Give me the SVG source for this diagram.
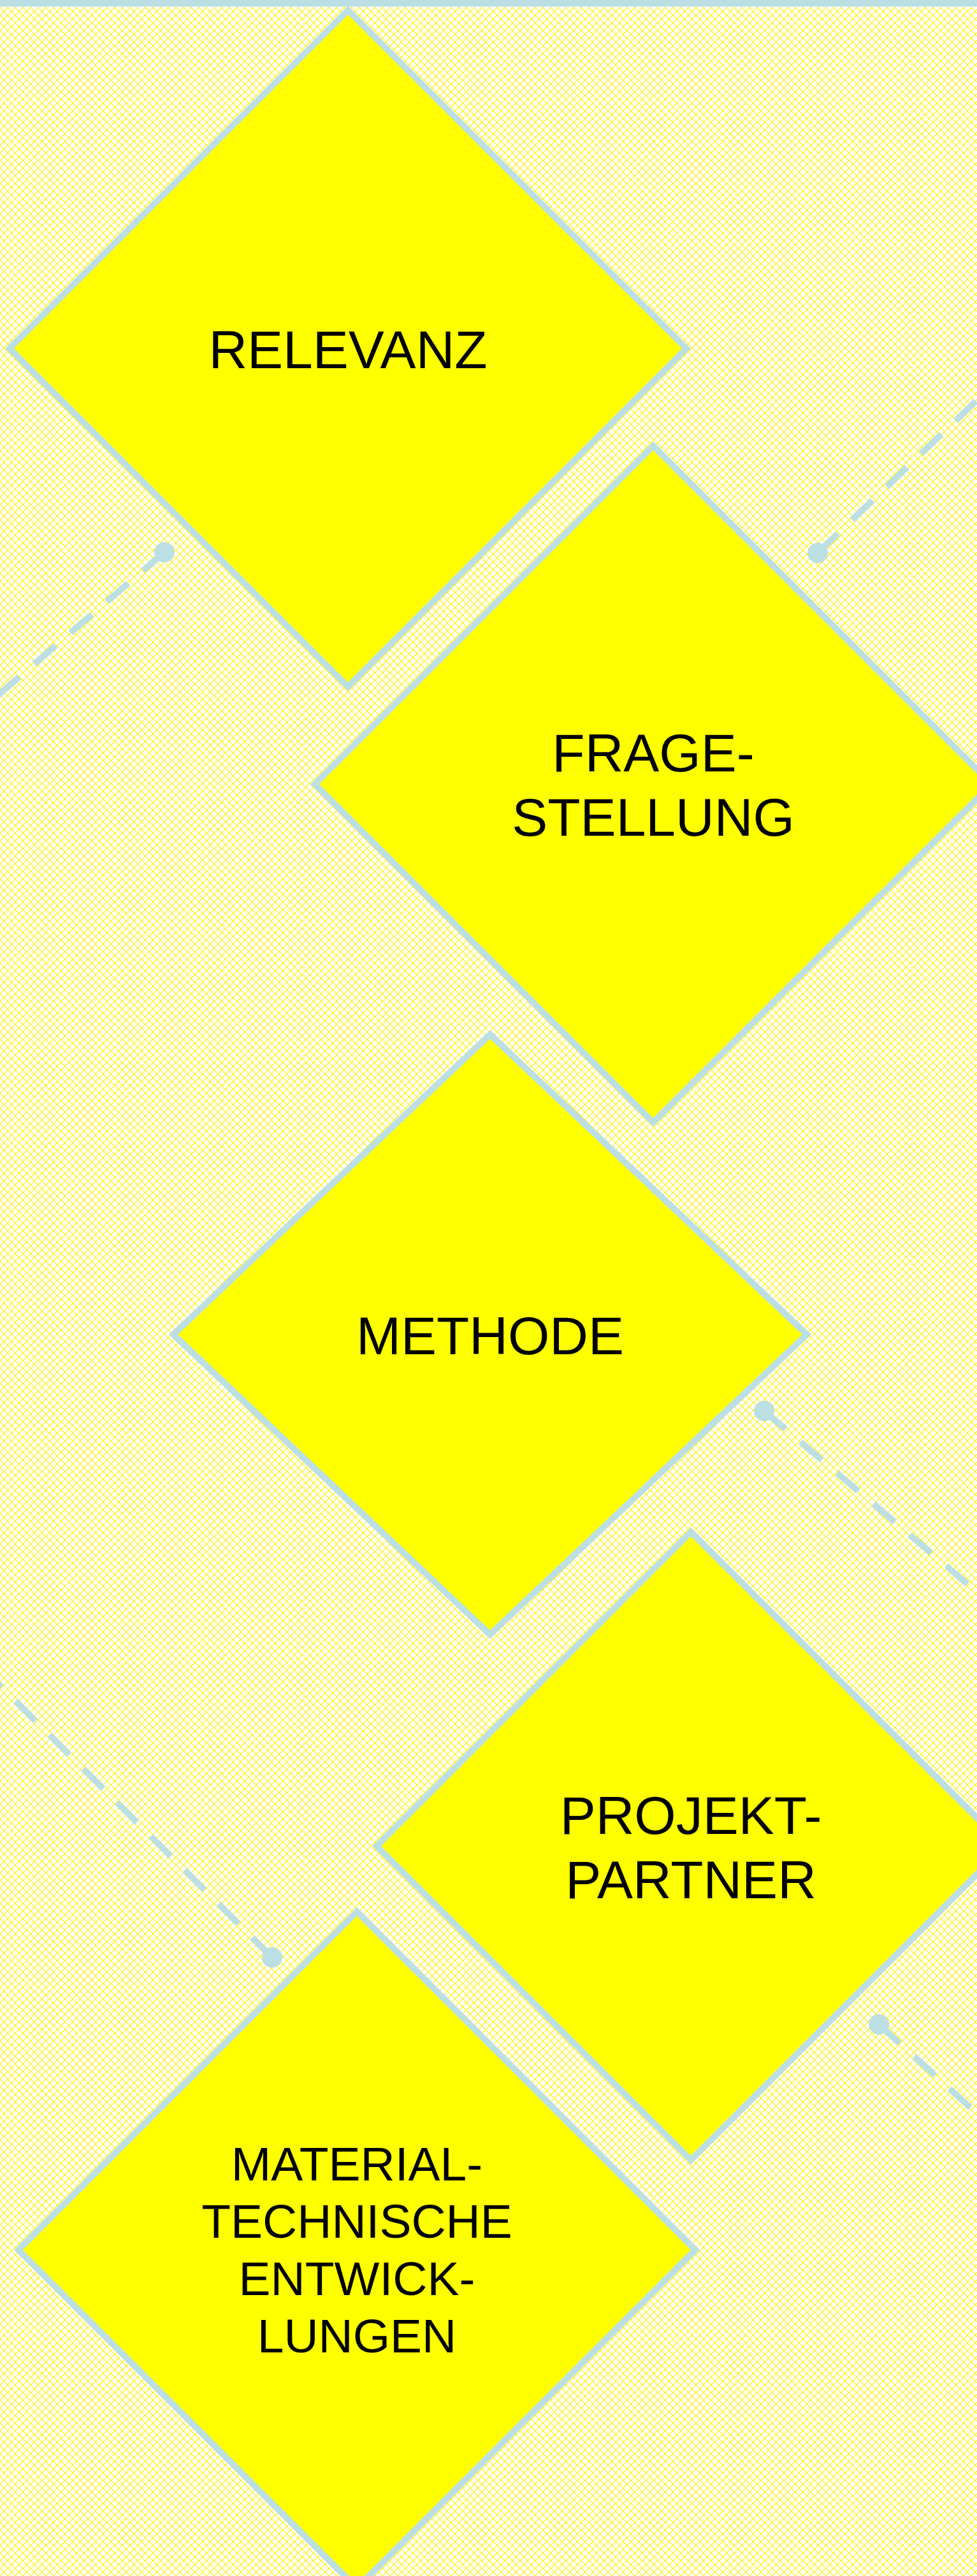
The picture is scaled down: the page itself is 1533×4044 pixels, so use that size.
<svg xmlns="http://www.w3.org/2000/svg" width="1533" height="4044" viewBox="0 0 1533 4044">
  <style>
    .node { fill: #FFFF00; stroke: #BCDFE3; stroke-width: 10; stroke-linejoin: miter; }
    .lbl { font-family: "Liberation Sans", Arial, sans-serif; fill: #000000; text-anchor: middle; }
    .big { font-size: 84px; }
    .small { font-size: 75px; }
    .conn { fill: none; stroke: #BCDFE3; stroke-width: 10; stroke-dasharray: 44 31; }
    .dot { fill: #BCDFE3; }
  </style>
  <defs>
    <pattern id="lattice" width="12" height="12" patternUnits="userSpaceOnUse">
      <rect width="12" height="12" fill="#FFFFFF"/>
      <path d="M0,0 L12,12 M12,0 L0,12" stroke="#FFF000" stroke-width="1.2" fill="none"/>
    </pattern>
  </defs>
  <rect x="0" y="0" width="1533" height="4044" fill="url(#lattice)"/>
  <rect x="0" y="0" width="1533" height="10" fill="#BCDFE3"/>
  <rect x="0" y="10" width="1533" height="1" fill="#E4F2F4"/>

  <g id="connectors">
    <g id="conn1"><path class="conn" d="M1283,868 L1555,607"/><circle class="dot" cx="1283" cy="868" r="16"/></g>
    <g id="conn2"><path class="conn" d="M258,867 L-25,1110"/><circle class="dot" cx="258" cy="867" r="16"/></g>
    <g id="conn3"><path class="conn" d="M1199,2215 L1555,2518"/><circle class="dot" cx="1199" cy="2215" r="16"/></g>
    <g id="conn4"><path class="conn" d="M427,3073 L-25,2621"/><circle class="dot" cx="427" cy="3073" r="16"/></g>
    <g id="conn5"><path class="conn" d="M1379,3178 L1555,3338"/><circle class="dot" cx="1379" cy="3178" r="16"/></g>
  </g>

  <g id="node-relevanz">
    <polygon class="node" points="546,16 1077,547 546,1078 15,547"/>
    <text class="lbl big" x="546" y="578">RELEVANZ</text>
  </g>
  <g id="node-fragestellung">
    <polygon class="node" points="1025,700 1556,1231 1025,1762 494,1231"/>
    <text class="lbl big" x="1025" y="1211">FRAGE-</text>
    <text class="lbl big" x="1025" y="1312">STELLUNG</text>
  </g>
  <g id="node-methode">
    <polygon class="node" points="769,1624 1266,2095 769,2566 272,2095"/>
    <text class="lbl big" x="769" y="2126">METHODE</text>
  </g>
  <g id="node-projektpartner">
    <polygon class="node" points="1084,2405 1577,2898 1084,3391 591,2898"/>
    <text class="lbl big" x="1084" y="2879">PROJEKT-</text>
    <text class="lbl big" x="1084" y="2980">PARTNER</text>
  </g>
  <g id="node-material">
    <polygon class="node" points="560,3001 1091,3532 560,4063 29,3532"/>
    <text class="lbl small" x="560" y="3423">MATERIAL-</text>
    <text class="lbl small" x="560" y="3513">TECHNISCHE</text>
    <text class="lbl small" x="560" y="3603">ENTWICK-</text>
    <text class="lbl small" x="560" y="3693">LUNGEN</text>
  </g>
</svg>
